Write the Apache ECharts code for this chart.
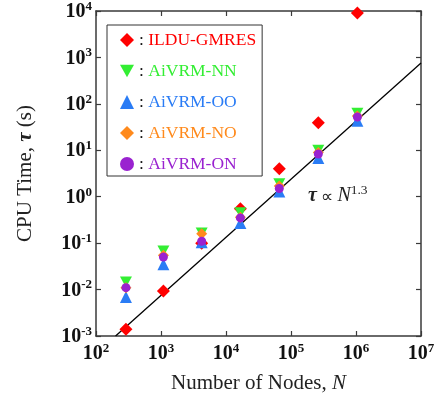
<!DOCTYPE html>
<html>
<head>
<meta charset="utf-8">
<script src="https://cdn.jsdelivr.net/npm/echarts@6/dist/echarts.min.js"></script>
<style>
  html, body { margin: 0; padding: 0; background: #fff; }
  #chart { width: 440px; height: 400px; }
</style>
</head>
<body>
<div id="chart"></div>
<script>
const nodes = [289, 1089, 4225, 16641, 66049, 263169, 1050625]
const ilduGmres = [0.0014, 0.0093, 0.1, 0.55, 4.0, 39, 9000]
const aivrmNN = [0.0145, 0.068, 0.165, 0.45, 1.9, 10, 63]
const aivrmOO = [0.0069, 0.035, 0.105, 0.27, 1.3, 6.8, 43]
const aivrmNO = [0.011, 0.055, 0.16, 0.36, 1.7, 9, 55]
const aivrmON = [0.011, 0.05, 0.11, 0.35, 1.5, 8.3, 52]
const fitN = [200, 1e7]
const fitTau = [0.001, 760]

const serif = 'Liberation Serif'
const pair = (xs, ys) => xs.map((x, i) => [x, ys[i]])
const downTriangle = 'path://M0,0L10,0L5,9Z'

const tickRich = {
  b: { fontFamily: serif, fontWeight: 'bold', fontSize: 20, color: '#111', verticalAlign: 'bottom', lineHeight: 22 },
  s: { fontFamily: serif, fontWeight: 'bold', fontSize: 13, color: '#111', verticalAlign: 'top', lineHeight: 13 }
}
const powLabel = (v) => '{b|10}{s|' + Math.round(Math.log10(v)) + '}'

const axisLine = { lineStyle: { color: '#3a3a3a', width: 1.5 } }
const axisTick = { inside: true, length: 5, lineStyle: { color: '#3a3a3a', width: 1.2 } }

const legendKeys = { 'ILDU-GMRES': 'r', 'AiVRM-NN': 'g', 'AiVRM-OO': 'b', 'AiVRM-NO': 'o', 'AiVRM-ON': 'p' }
const colors = { r: '#ff0000', g: '#33ee33', b: '#2a7cf5', o: '#ff8a1c', p: '#9a22d0' }

const chart = echarts.init(document.getElementById('chart'))
chart.setOption({
  animation: false,
  grid: { left: 96, right: 19, top: 11, bottom: 64 },
  legend: {
    orient: 'vertical',
    left: 107,
    top: 25,
    padding: [5, 6, 2, 13],
    borderColor: '#333',
    borderWidth: 1,
    itemWidth: 14,
    itemHeight: 14,
    itemGap: 11,
    data: [
      { name: 'ILDU-GMRES' },
      { name: 'AiVRM-NN', icon: downTriangle },
      { name: 'AiVRM-OO' },
      { name: 'AiVRM-NO' },
      { name: 'AiVRM-ON', itemStyle: { borderWidth: 0 } }
    ],
    formatter: (name) => '{k|:} {' + legendKeys[name] + '|' + name + '}',
    textStyle: {
      fontFamily: serif,
      fontSize: 17.5,
      lineHeight: 20,
      rich: {
        k: { fontFamily: serif, fontSize: 17.5, color: '#111' },
        r: { fontFamily: serif, fontSize: 17.5, color: colors.r },
        g: { fontFamily: serif, fontSize: 17.5, color: colors.g },
        b: { fontFamily: serif, fontSize: 17.5, color: colors.b },
        o: { fontFamily: serif, fontSize: 17.5, color: colors.o },
        p: { fontFamily: serif, fontSize: 17.5, color: colors.p }
      }
    }
  },
  xAxis: [
    {
      type: 'log', min: 100, max: 1e7, splitNumber: 5, position: 'bottom',
      axisLine, axisTick, splitLine: { show: false },
      axisLabel: { margin: 6, formatter: powLabel, rich: tickRich },
      name: '{n|Number of Nodes, }{i|N}',
      nameLocation: 'middle', nameGap: 37,
      nameTextStyle: {
        rich: {
          n: { fontFamily: serif, fontSize: 21, color: '#222' },
          i: { fontFamily: serif, fontSize: 21, fontStyle: 'italic', color: '#222' }
        }
      }
    },
    {
      type: 'log', min: 100, max: 1e7, splitNumber: 5, position: 'top',
      axisLine, axisTick, splitLine: { show: false }, axisLabel: { show: false }
    }
  ],
  yAxis: [
    {
      type: 'log', min: 0.001, max: 10000, splitNumber: 7, position: 'left',
      axisLine, axisTick, splitLine: { show: false },
      axisLabel: { margin: 4, formatter: powLabel, rich: tickRich },
      name: '{n|CPU Time, }{t|τ}{n| (s)}',
      nameLocation: 'middle', nameGap: 60, nameRotate: 90,
      nameTextStyle: {
        rich: {
          n: { fontFamily: serif, fontSize: 21, color: '#222' },
          t: { fontFamily: serif, fontSize: 21, fontStyle: 'italic', fontWeight: 'bold', color: '#222' }
        }
      }
    },
    {
      type: 'log', min: 0.001, max: 10000, splitNumber: 7, position: 'right',
      axisLine, axisTick, splitLine: { show: false }, axisLabel: { show: false }
    }
  ],
  series: [
    {
      name: 'fit', type: 'line', data: pair(fitN, fitTau), showSymbol: false, symbol: 'none',
      lineStyle: { color: '#000', width: 1.3 }, z: 1, silent: true
    },
    {
      name: 'ILDU-GMRES', type: 'scatter', data: pair(nodes, ilduGmres),
      symbol: 'diamond', symbolSize: 13, itemStyle: { color: colors.r, opacity: 1 }, z: 2
    },
    {
      name: 'AiVRM-NN', type: 'scatter', data: pair(nodes, aivrmNN),
      symbol: downTriangle, symbolSize: [12, 11], itemStyle: { color: colors.g, opacity: 1 }, z: 3
    },
    {
      name: 'AiVRM-OO', type: 'scatter', data: pair(nodes, aivrmOO),
      symbol: 'triangle', symbolSize: 12, itemStyle: { color: colors.b, opacity: 1 }, z: 4
    },
    {
      name: 'AiVRM-NO', type: 'scatter', data: pair(nodes, aivrmNO),
      symbol: 'diamond', symbolSize: 11, itemStyle: { color: colors.o, opacity: 1 }, z: 5
    },
    {
      name: 'AiVRM-ON', type: 'scatter', data: pair(nodes, aivrmON),
      symbol: 'circle', symbolSize: 9, itemStyle: { color: colors.p, opacity: 1 }, z: 6
    }
  ],
  graphic: [
    {
      type: 'text', left: 308, top: 183, z: 10,
      style: {
        text: '{t|τ}{n| ∝ }{i|N}{s|1.3}',
        rich: {
          t: { fontFamily: serif, fontSize: 20, fontStyle: 'italic', fontWeight: 'bold', fill: '#222', verticalAlign: 'bottom', lineHeight: 23 },
          n: { fontFamily: serif, fontSize: 17, fill: '#222', verticalAlign: 'bottom', lineHeight: 23 },
          i: { fontFamily: serif, fontSize: 20, fontStyle: 'italic', fill: '#222', verticalAlign: 'bottom', lineHeight: 23 },
          s: { fontFamily: serif, fontSize: 13.5, fill: '#222', verticalAlign: 'top', lineHeight: 13 }
        }
      }
    }
  ]
})
</script>
</body>
</html>
